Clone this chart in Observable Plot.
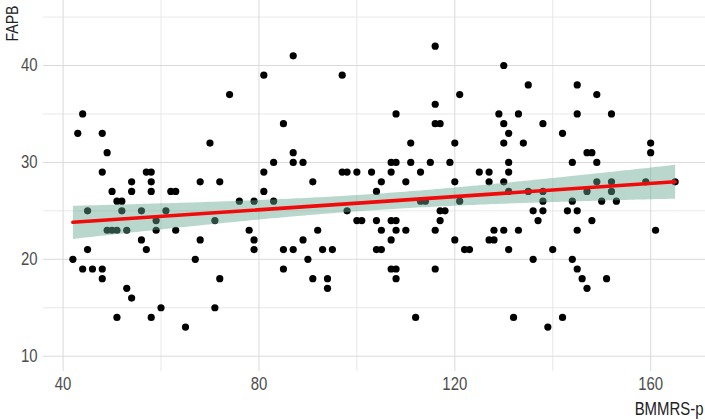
<!DOCTYPE html>
<html>
<head>
<meta charset="utf-8">
<script src="https://cdn.jsdelivr.net/npm/d3@7"></script>
<script src="https://cdn.jsdelivr.net/npm/@observablehq/plot@0.6"></script>
<style>
  html, body { margin: 0; padding: 0; background: #fff; }
  #chart svg { display: block; }
</style>
</head>
<body>
<div id="chart"></div>
<script>
// BMMRS-p (x) values
const bmmrs = [
  44,43,48,49,48,57,58,54,58,50,54,58,51,52,45,52,56,61,59,49,50,51,53,59,56,45,57,42,44,46,48,48,53,54,60,51,58,
  81,74,70,81,68,72,62,63,81,76,79,71,63,78,68,79,79,67,72,71,65,
  87,97,85,87,83,87,89,97,98,100,103,91,104,83,98,100,101,104,92,89,85,87,93,95,104,90,85,91,94,94,
  116,121,116,108,116,117,111,120,107,108,111,115,119,107,113,125,105,110,120,113,114,121,117,118,107,108,117,105,108,110,116,107,120,105,122,123,107,108,116,108,112,
  130,135,145,129,133,145,130,138,131,142,130,134,131,144,127,131,127,130,131,135,138,138,144,136,138,143,145,137,128,130,133,145,127,128,131,140,136,144,145,146,147,132,142,139,
  149,152,160,147,148,160,149,149,152,159,165,147,152,150,153,148,161,151
];
// FAPB (y) values
const fapb = [
  35,33,33,31,29,29,29,28,28,27,27,27,26,26,25,25,25,25,24,23,23,23,23,23,22,21,21,20,19,19,19,18,17,16,15,14,14,
  39,37,32,29,28,28,27,27,27,26,26,24,23,23,22,22,21,20,18,15,13,
  41,39,34,31,30,30,30,29,29,29,29,28,27,26,25,24,24,24,23,22,21,21,21,21,21,20,19,18,18,17,
  42,37,36,35,34,34,32,32,30,30,30,30,30,29,29,29,28,28,28,26,26,26,25,25,24,24,24,23,23,23,23,22,22,21,21,21,19,19,19,18,14,
  40,38,38,35,35,35,34,34,33,33,32,32,30,30,29,29,28,28,27,27,27,26,26,25,25,25,25,24,23,23,23,23,22,22,21,21,20,20,19,18,17,14,14,13,
  37,35,32,31,31,31,30,28,28,28,28,27,27,26,26,24,23,18
];
const xTicks = [40, 80, 120, 160];
const xMinor = [60, 100, 140];
const yTicks = [10, 20, 30, 40];
const yMinor = [15, 25, 35, 45];
const xTitle = "BMMRS-p";
const yTitle = "FAPB";

const data = bmmrs.map((x, i) => ({x, y: fapb[i]}));

const chart = Plot.plot({
  width: 705,
  height: 420,
  marginTop: 0,
  marginLeft: 43,
  marginRight: 0,
  marginBottom: 49,
  style: {fontFamily: "'Liberation Sans Narrow', 'Arial Narrow', 'Liberation Sans', sans-serif", fontSize: "18px", color: "#4d4d4d", background: "#fff"},
  x: {domain: [36.0, 171.2]},
  y: {domain: [8.42, 46.71]},
  marks: [
    Plot.ruleX(xMinor, {stroke: "#e2e2e2", strokeWidth: 0.8}),
    Plot.ruleY(yMinor, {stroke: "#e2e2e2", strokeWidth: 0.8}),
    Plot.ruleX(xTicks, {stroke: "#dadada", strokeWidth: 1}),
    Plot.ruleY(yTicks, {stroke: "#dadada", strokeWidth: 1}),
    Plot.axisX({ticks: xTicks, tickSize: 0, tickPadding: 6, label: null, fill: "#4d4d4d"}),
    Plot.axisY({ticks: yTicks, tickSize: 0, tickPadding: 6, label: null, fill: "#4d4d4d"}),
    Plot.dot(data, {x: "x", y: "y", r: 3.6, fill: "#000", stroke: "none"}),
    Plot.linearRegressionY(data, {x: "x", y: "y", stroke: "#f00a0a", strokeWidth: 3.6, fill: "#66a690", fillOpacity: 0.45, ci: 0.95}),
    Plot.text([xTitle], {frameAnchor: "bottom-right", text: d => d, textAnchor: "end", lineAnchor: "bottom", dy: 43, dx: -2, fill: "#222", fontSize: 18}),
    Plot.text([yTitle], {frameAnchor: "top-left", text: d => d, textAnchor: "end", lineAnchor: "bottom", rotate: -90, dx: -26, dy: 5, fill: "#222", fontSize: 17})
  ]
});
document.getElementById("chart").appendChild(chart);

// Emulate the narrow typeface of the reference: squeeze each text along its
// reading direction about its anchor point (wrapping it in a scaled group)
const NS = "http://www.w3.org/2000/svg";
const SQ = 0.83;
Array.from(chart.querySelectorAll("text")).forEach(t => {
  const r = t.getBoundingClientRect();
  if (!r.width || !r.height) return;
  const anchor = getComputedStyle(t).textAnchor;
  const vertical = r.height > r.width * 1.3 && t.textContent.length > 2;
  let sx, sy, X, Y;
  if (vertical) {
    sx = 1; sy = SQ; X = r.left + r.width / 2; Y = r.top;
  } else {
    sx = SQ; sy = 1; Y = r.top + r.height / 2;
    X = anchor === "end" ? r.right : anchor === "middle" ? r.left + r.width / 2 : r.left;
  }
  const parent = t.parentNode;
  const pt = chart.createSVGPoint();
  pt.x = X; pt.y = Y;
  const p = pt.matrixTransform(parent.getScreenCTM().inverse());
  const g = document.createElementNS(NS, "g");
  g.setAttribute("transform", `translate(${p.x},${p.y}) scale(${sx},${sy}) translate(${-p.x},${-p.y})`);
  parent.insertBefore(g, t);
  g.appendChild(t);
});
</script>
</body>
</html>
